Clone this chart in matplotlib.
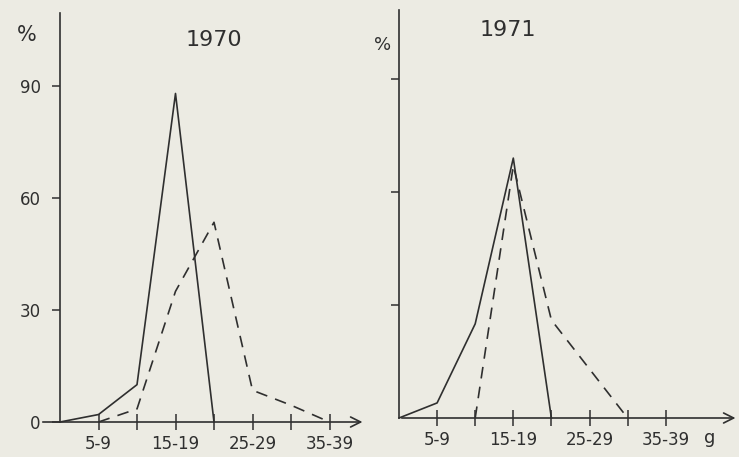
import matplotlib
matplotlib.use('Agg')
from matplotlib import pyplot as plt

# weight classes (g), index 0 = 0-4 at the origin
classes = ['0-4', '5-9', '10-14', '15-19', '20-24', '25-29', '30-34', '35-39']
shown_labels = ['', '5-9', '', '15-19', '', '25-29', '', '35-39']

# 1970, percent per class
solid_1970_x = [0, 1, 2, 3, 4]
solid_1970 = [0, 2, 10, 88, 0]
dashed_1970_x = [1, 2, 3, 4, 5, 6, 7]
dashed_1970 = [0, 3.5, 35, 53.5, 8.5, 4.5, 0]

# 1971, percent per class
solid_1971_x = [0, 1, 2, 3, 4]
solid_1971 = [0, 4, 25, 69, 0]
dashed_1971_x = [2, 3, 4, 5, 6]
dashed_1971 = [0, 67, 26, 13, 0]

y_ticks = [0, 30, 60, 90]

W, H = 739, 457
paper = '#ecebe3'
ink = '#2f2f2f'

fig = plt.figure(figsize=(W / 100, H / 100), dpi=100, facecolor=paper)


def make_panel(rect_px, origin_px, step_px, ypx_per_unit, top_px, year, year_xy, pct_xy,
               pct_size, show_ylabels, solid, dashed):
    left, right, base = rect_px
    ax = fig.add_axes([left / W, (H - base) / H, (right - left) / W, (base - top_px) / H])
    ax.set_facecolor('none')
    x0 = -(origin_px - left) / step_px
    x1 = (right - origin_px) / step_px
    ax.set_xlim(x0, x1)
    ax.set_ylim(0, (base - top_px) / ypx_per_unit)

    for sp in ['top', 'right', 'bottom']:
        ax.spines[sp].set_visible(False)
    ax.spines['left'].set_position(('data', 0))
    ax.spines['left'].set_color(ink)
    ax.spines['left'].set_linewidth(1.2)

    # x axis with arrow
    ax.annotate('', xy=(x1 - 0.02, 0), xytext=(x0, 0),
                arrowprops=dict(arrowstyle='->', color=ink, lw=1.2,
                                mutation_scale=18),
                annotation_clip=False)

    ax.set_xticks(range(1, len(classes)))
    ax.set_xticklabels(shown_labels[1:], fontsize=12, color=ink)
    ax.tick_params(axis='x', direction='inout', length=11, width=1.1, color=ink, pad=4)

    ax.set_yticks(y_ticks if show_ylabels else y_ticks[1:])
    if show_ylabels:
        ax.set_yticklabels([str(v) for v in y_ticks], fontsize=12, color=ink)
    else:
        ax.set_yticklabels([])
    ax.tick_params(axis='y', direction='out', length=6, width=1.1, color=ink, pad=8)

    ax.plot(solid[0], solid[1], color=ink, lw=1.2, clip_on=False)
    ax.plot(dashed[0], dashed[1], color=ink, lw=1.2, linestyle=(0, (7, 5)), clip_on=False)

    fig.text(year_xy[0] / W, 1 - year_xy[1] / H, year, fontsize=16, color=ink,
             ha='center', va='center')
    fig.text(pct_xy[0] / W, 1 - pct_xy[1] / H, '%', fontsize=pct_size, color=ink,
             ha='center', va='center')
    return ax


make_panel((40, 366, 422), 60, 38.5, 112 / 30, 13, '1970', (214, 40), (27, 35), 15, True,
           (solid_1970_x, solid_1970), (dashed_1970_x, dashed_1970))
make_panel((399, 739, 418), 399, 38.1, 113 / 30, 10, '1971', (508, 30), (383, 45), 13, False,
           (solid_1971_x, solid_1971), (dashed_1971_x, dashed_1971))

fig.text(710 / W, 1 - 438 / H, 'g', fontsize=13, color=ink, ha='center', va='center')

fig.savefig('out.png', dpi=100, facecolor=paper)
